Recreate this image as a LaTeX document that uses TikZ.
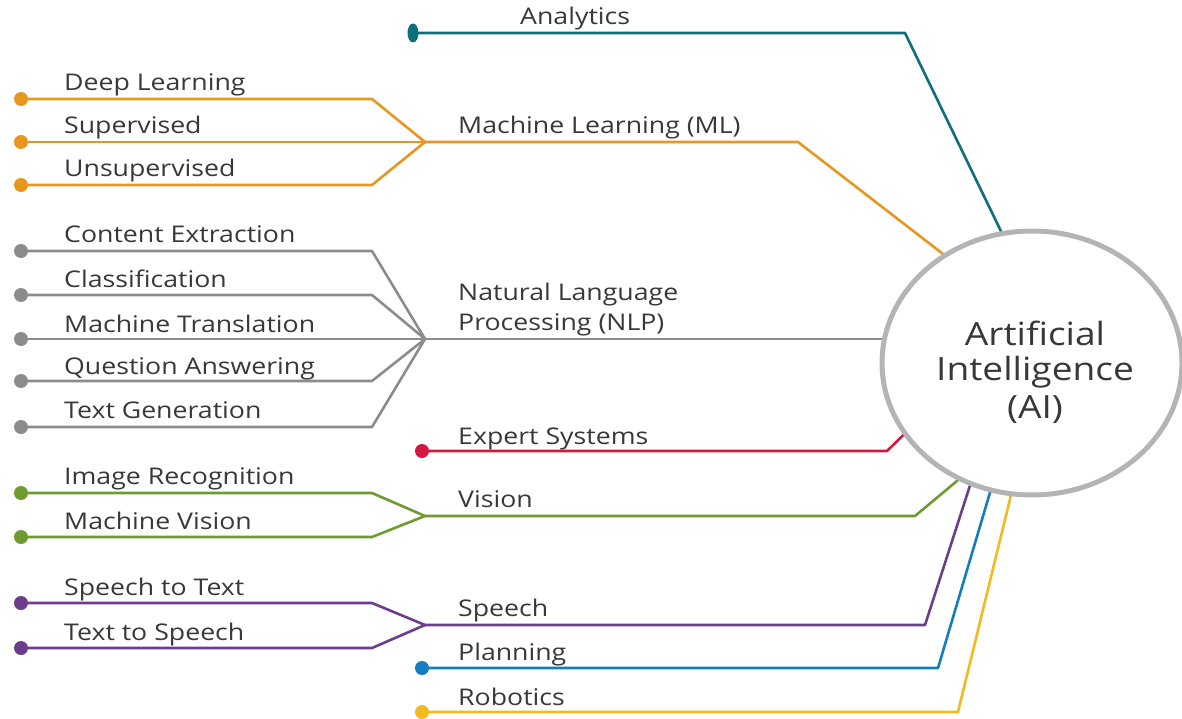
\documentclass[tikz,border=0pt]{standalone}
\usepackage{fontspec}
\setmainfont{Open Sans}[FakeStretch=1.16]
\usetikzlibrary{shapes.geometric}
\pgfdeclarelayer{bg}
\pgfsetlayers{bg,main}
\definecolor{cteal}{HTML}{0E6F7C}
\definecolor{corange}{HTML}{E8961E}
\definecolor{cgray}{HTML}{8C8C8C}
\definecolor{cred}{HTML}{D4173F}
\definecolor{cgreen}{HTML}{6F9A2F}
\definecolor{cpurple}{HTML}{6B3D8C}
\definecolor{cblue}{HTML}{137DBF}
\definecolor{cyellow}{HTML}{F2BA1E}
\definecolor{ctext}{HTML}{383838}
\definecolor{ccircle}{HTML}{B4B4B4}
\tikzset{
  lbl/.style={anchor=base west, inner sep=0pt, text=ctext, font=\fontsize{23}{27}\selectfont},
  ailbl/.style={anchor=base, inner sep=0pt, text=ctext, font=\fontsize{32}{37}\selectfont},
  dot/.style={circle, fill=#1, inner sep=0pt, minimum size=14pt},
  ln/.style={draw=#1, line width=2.6pt, line join=round},
  aibox/.style={ellipse, draw=ccircle, line width=5pt, fill=white, minimum width=300pt, minimum height=264pt, inner sep=0pt, outer sep=0pt}
}
\begin{document}
\begin{tikzpicture}[x=1pt,y=-1pt]
\useasboundingbox (0,0) rectangle (1182,719);
% central node
\node[aibox] (ai) at (1032,363) {};
\node[ailbl] (ai1) at (1035,345) {Artificial};
\node[ailbl] (ai2) at (1035,380) {Intelligence};
\node[ailbl] (ai3) at (1035,418) {(AI)};
% helper coordinates
\coordinate (bx) at (372,0);
\coordinate (mlj) at (425,142);
\coordinate (nlpj) at (425,339);
\coordinate (visj) at (425,516);
\coordinate (spj) at (425,625);
\coordinate (anc) at (905,33);
\coordinate (mlc) at (798,142);
\coordinate (exc) at (887,451);
\coordinate (visc) at (915,516);
\coordinate (spc) at (925,625);
\coordinate (plc) at (938,668);
\coordinate (roc) at (958,712);
\coordinate (nlpe) at (ai.170.8);
% dots
\node[ellipse, fill=cteal, inner sep=0pt, minimum width=11pt, minimum height=19pt] (dan) at (413,33) {};
\node[dot=corange] (dml1) at (21,99) {};
\node[dot=corange] (dml2) at (21,142) {};
\node[dot=corange] (dml3) at (21,185) {};
\node[dot=cgray] (dn1) at (21,251) {};
\node[dot=cgray] (dn2) at (21,295) {};
\node[dot=cgray] (dn3) at (21,339) {};
\node[dot=cgray] (dn4) at (21,381) {};
\node[dot=cgray] (dn5) at (21,427) {};
\node[dot=cred] (dex) at (422,451) {};
\node[dot=cgreen] (dv1) at (21,493) {};
\node[dot=cgreen] (dv2) at (21,537) {};
\node[dot=cpurple] (ds1) at (21,603) {};
\node[dot=cpurple] (ds2) at (21,648) {};
\node[dot=cblue] (dpl) at (422,668) {};
\node[dot=cyellow] (dro) at (422,712) {};
% connectors
\begin{pgfonlayer}{bg}
\draw[ln=cteal] (dan.center) -- (anc) -- (ai.103);
\draw[ln=corange] (dml1.center) -- (dml1 -| bx) -- (mlj);
\draw[ln=corange] (dml2.center) -- (mlj);
\draw[ln=corange] (dml3.center) -- (dml3 -| bx) -- (mlj);
\draw[ln=corange] (mlj) -- (mlc) -- (ai.129);
\draw[ln=cgray] (dn1.center) -- (dn1 -| bx) -- (nlpj);
\draw[ln=cgray] (dn2.center) -- (dn2 -| bx) -- (nlpj);
\draw[ln=cgray] (dn3.center) -- (nlpj);
\draw[ln=cgray] (dn4.center) -- (dn4 -| bx) -- (nlpj);
\draw[ln=cgray] (dn5.center) -- (dn5 -| bx) -- (nlpj);
\draw[ln=cgray] (nlpj) -- ([xshift=4pt]nlpj -| nlpe);
\draw[ln=cred] (dex.center) -- (exc) -- (ai.209);
\draw[ln=cgreen] (dv1.center) -- (dv1 -| bx) -- (visj);
\draw[ln=cgreen] (dv2.center) -- (dv2 -| bx) -- (visj);
\draw[ln=cgreen] (visj) -- (visc) -- (ai.238);
\draw[ln=cpurple] (ds1.center) -- (ds1 -| bx) -- (spj);
\draw[ln=cpurple] (ds2.center) -- (ds2 -| bx) -- (spj);
\draw[ln=cpurple] (spj) -- (spc) -- (ai.243);
\draw[ln=cblue] (dpl.center) -- (plc) -- (ai.252);
\draw[ln=cyellow] (dro.center) -- (roc) -- (ai.261);
\end{pgfonlayer}
% labels
\node[lbl] (lan) at (520,25) {Analytics};
\node[lbl] (l1) at (64,91) {Deep Learning};
\node[lbl] (l2) at (64,134) {Supervised};
\node[lbl] (l3) at (64,177) {Unsupervised};
\node[lbl] (lml) at (458,134) {Machine Learning (ML)};
\node[lbl] (l4) at (64,243) {Content Extraction};
\node[lbl] (l5) at (64,287) {Classification};
\node[lbl] (l6) at (64,332) {Machine Translation};
\node[lbl] (l7) at (64,374) {Question Answering};
\node[lbl] (l8) at (64,418) {Text Generation};
\node[lbl] (lnlp1) at (458,300) {Natural Language};
\node[lbl] (lnlp2) at (458,330) {Processing (NLP)};
\node[lbl] (lex) at (458,444) {Expert Systems};
\node[lbl] (l9) at (64,484) {Image Recognition};
\node[lbl] (l10) at (64,529) {Machine Vision};
\node[lbl] (lvis) at (458,507) {Vision};
\node[lbl] (l11) at (64,595) {Speech to Text};
\node[lbl] (l12) at (64,640) {Text to Speech};
\node[lbl] (lsp) at (458,616) {Speech};
\node[lbl] (lpl) at (458,660) {Planning};
\node[lbl] (lro) at (458,705) {Robotics};
\end{tikzpicture}
\end{document}
